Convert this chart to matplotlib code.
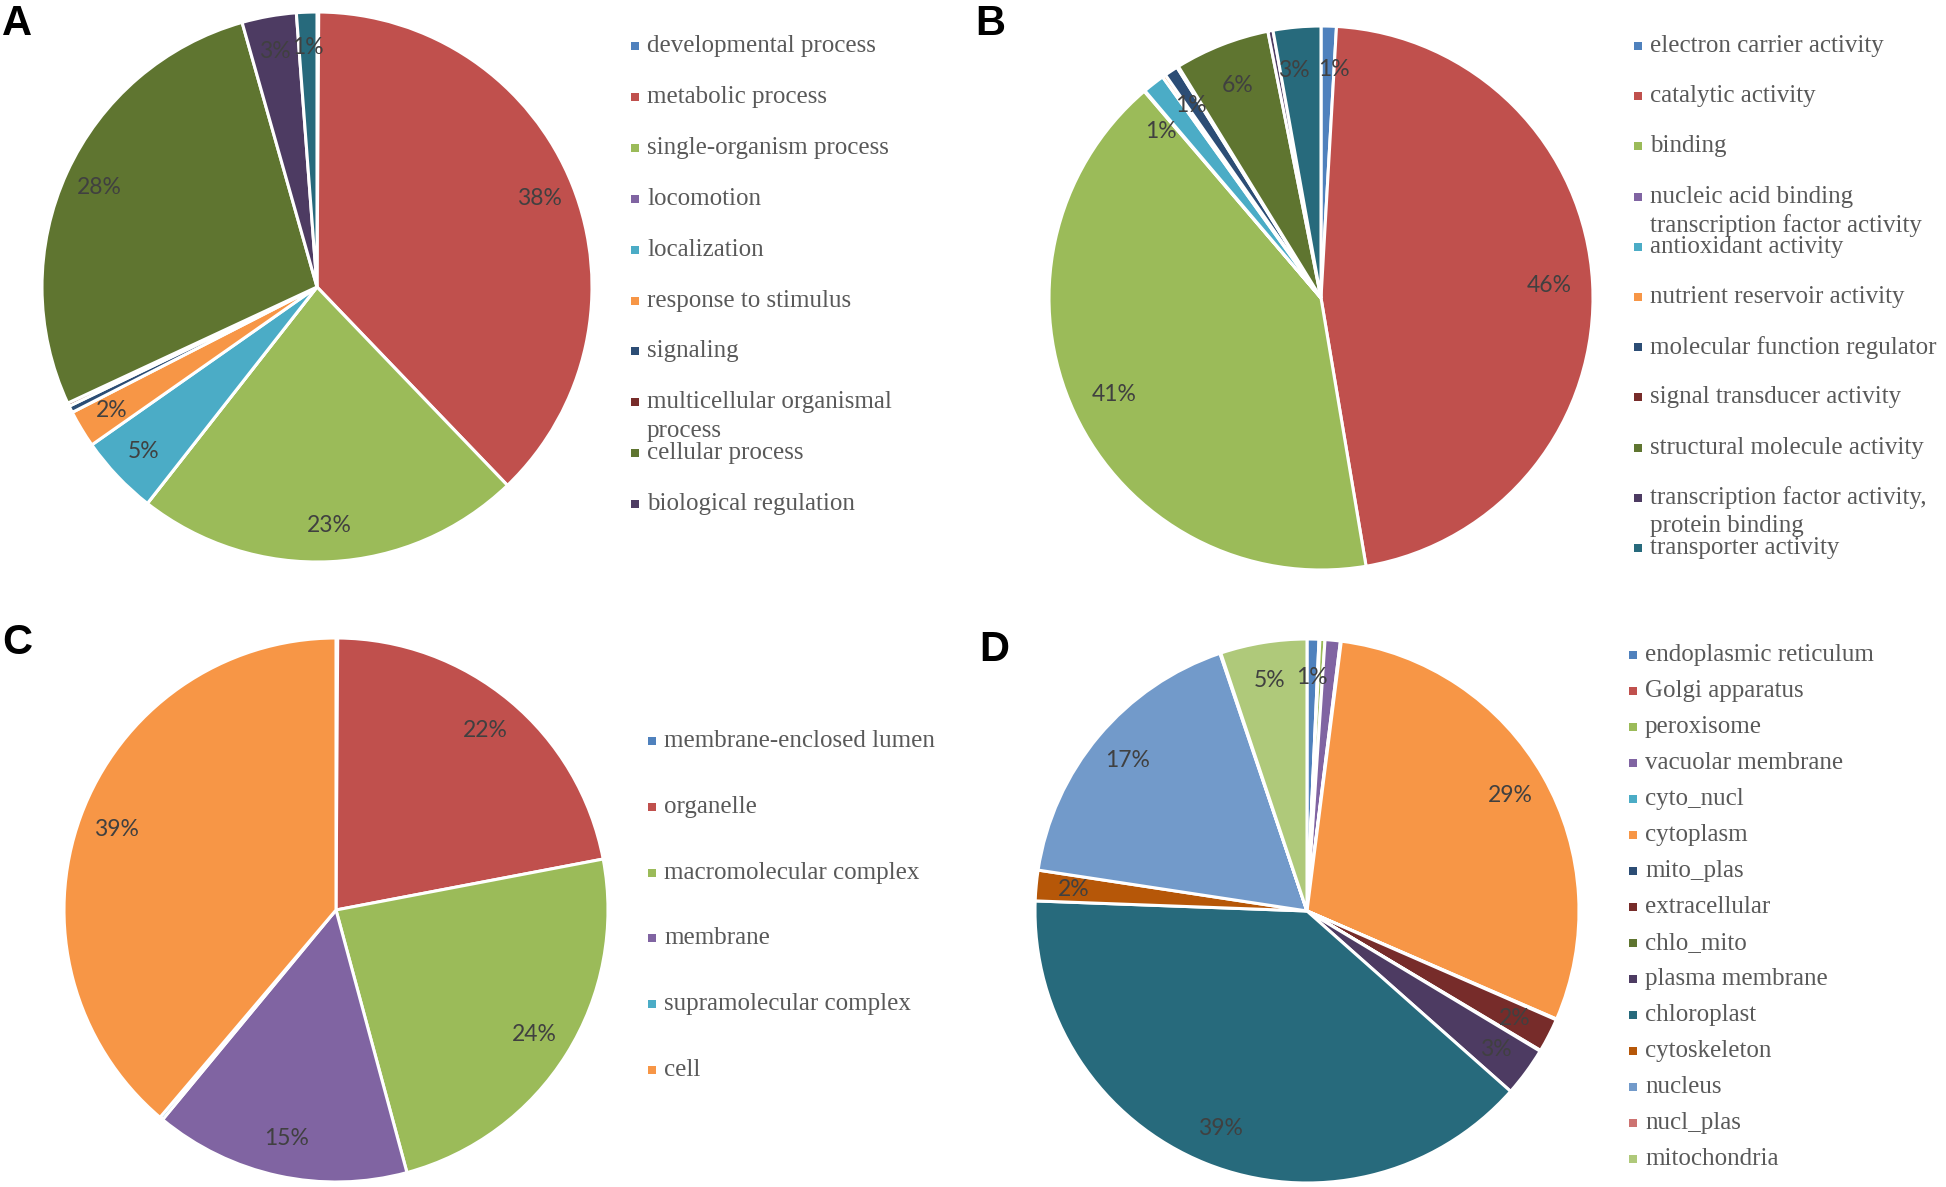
import matplotlib
matplotlib.use('Agg')
import matplotlib.pyplot as plt

# ================== DATA ==================
# Excel 2010 default series colours
EXCEL_COLORS = ['#4F81BD', '#C0504D', '#9BBB59', '#8064A2', '#4BACC6', '#F79646',
                '#2C4D75', '#772C2A', '#5F7530', '#4D3B62', '#276A7C', '#B65708',
                '#729ACA', '#CD7371', '#AFC97A']

# A - biological process (last slice is not listed in the legend)
bp_names = ['developmental process', 'metabolic process', 'single-organism process',
            'locomotion', 'localization', 'response to stimulus', 'signaling',
            'multicellular organismal\nprocess', 'cellular process',
            'biological regulation', 'other']
bp_values = [0.1, 37.8, 22.8, 0.0, 4.7, 2.2, 0.4, 0.2, 27.6, 3.2, 1.2]
bp_pct = ['', '38%', '23%', '', '5%', '2%', '', '', '28%', '3%', '1%']
bp_legend_n = 10

# B - molecular function
mf_names = ['electron carrier activity', 'catalytic activity', 'binding',
            'nucleic acid binding\ntranscription factor activity', 'antioxidant activity',
            'nutrient reservoir activity', 'molecular function regulator',
            'signal transducer activity', 'structural molecule activity',
            'transcription factor activity,\nprotein binding', 'transporter activity']
mf_values = [0.9, 46.0, 41.0, 0.05, 1.3, 0.2, 0.8, 0.1, 5.6, 0.3, 2.8]
mf_pct = ['1%', '46%', '41%', '', '1%', '', '1%', '', '6%', '', '3%']

# C - cellular component
cc_names = ['membrane-enclosed lumen', 'organelle', 'macromolecular complex',
            'membrane', 'supramolecular complex', 'cell']
cc_values = [0.1, 21.9, 23.8, 15.2, 0.2, 38.8]
cc_pct = ['', '22%', '24%', '15%', '', '39%']

# D - subcellular localization
loc_names = ['endoplasmic reticulum', 'Golgi apparatus', 'peroxisome',
             'vacuolar membrane', 'cyto_nucl', 'cytoplasm', 'mito_plas',
             'extracellular', 'chlo_mito', 'plasma membrane', 'chloroplast',
             'cytoskeleton', 'nucleus', 'nucl_plas', 'mitochondria']
loc_values = [0.7, 0.05, 0.3, 0.9, 0.05, 29.3, 0.05, 2.0, 0.05, 2.9, 38.8,
              1.8, 17.3, 0.05, 5.1]
loc_pct = ['1%', '', '', '', '', '29%', '', '2%', '', '3%', '39%', '2%', '17%', '', '5%']

# ================== LAYOUT (pixels) ==================
W, H = 1946, 1187
PANELS = [
    # letter, letter pos, pie centre, radius, label dist, values, pct, names, legend n, legend x, y0, dy
    ('A', (17, 24), (317, 287), 275, 0.87, bp_values, bp_pct, bp_names, bp_legend_n, 635, 46, 50.9),
    ('B', (990, 24), (1321, 298), 272, 0.84, mf_values, mf_pct, mf_names, len(mf_names), 1638, 46, 50.2),
    ('C', (17, 643), (336, 910), 272, 0.86, cc_values, cc_pct, cc_names, len(cc_names), 652, 741, 65.8),
    ('D', (994, 650), (1307, 911), 272, 0.86, loc_values, loc_pct, loc_names, len(loc_names), 1633, 655, 36.0),
]
# small nudges (axes units) for crowded labels: panel -> {slice index: (dx, dy)}
NUDGE = {'B': {0: (0.025, 0.0), 10: (-0.025, 0.0), 4: (-0.07, -0.05), 6: (-0.015, 0.005)}}
WRAP_DY = 28.5

fig = plt.figure(figsize=(W / 100, H / 100), dpi=100)
over = fig.add_axes([0, 0, 1, 1])
over.set_xlim(0, W)
over.set_ylim(H, 0)
over.axis('off')

for letter, lpos, (cx, cy), r, ldist, vals, pcts, names, n_leg, lx, ly0, ldy in PANELS:
    ax = fig.add_axes([(cx - r) / W, 1 - (cy + r) / H, 2 * r / W, 2 * r / H])
    colors = EXCEL_COLORS[:len(vals)]
    wedges, texts = ax.pie(vals, colors=colors, startangle=90, counterclock=False,
                           labels=pcts, labeldistance=ldist,
                           wedgeprops=dict(edgecolor='white', linewidth=2.2),
                           textprops=dict(color='#404040', fontsize=16.5, family=['Lato', 'DejaVu Sans']))
    for i, t in enumerate(texts):
        t.set_ha('center')
        t.set_va('center')
        if i in NUDGE.get(letter, {}):
            x, y = t.get_position()
            dx, dy = NUDGE[letter][i]
            t.set_position((x + dx, y + dy))
    ax.set_xlim(-1, 1)
    ax.set_ylim(-1, 1)
    ax.set_aspect('equal')

    over.text(lpos[0], lpos[1], letter, fontsize=30, fontweight='bold',
              family=['Liberation Sans', 'DejaVu Sans'], ha='center', va='center', color='black')

    # legend drawn by hand so wrapped entries overlap like the original
    for i in range(n_leg):
        y = ly0 + i * ldy
        over.scatter([lx], [y], marker='s', s=30, color=colors[i], linewidths=0)
        for j, line in enumerate(names[i].split('\n')):
            over.text(lx + 12, y + j * WRAP_DY, line, fontsize=18, color='#595959',
                      family=['Liberation Serif', 'DejaVu Serif'], ha='left', va='center')

fig.savefig('out.png', dpi=100, facecolor='white')
